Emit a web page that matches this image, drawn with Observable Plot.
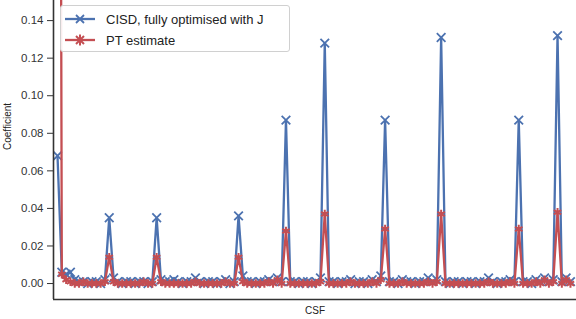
<!DOCTYPE html>
<html>
<head>
<meta charset="utf-8">
<script src="https://cdn.jsdelivr.net/npm/d3@7"></script>
<script src="https://cdn.jsdelivr.net/npm/@observablehq/plot@0.6"></script>
<style>
  html, body { margin: 0; padding: 0; background: #fff; }
  #wrap { position: relative; width: 576px; height: 319px; font-family: "Liberation Sans", Arial, sans-serif; }
  #legend { position: absolute; left: 60px; top: 5px; width: 230px; height: 47px; background: rgba(255,255,255,0.9);
            border: 1px solid #d0d0d0; border-radius: 3px; box-sizing: border-box; font-size: 13px; color: #222; }
  .row { position: absolute; left: 4px; height: 20px; display: flex; align-items: center; }
  .row svg { margin-right: 9px; }
</style>
</head>
<body>
<div id="wrap"></div>
<script>
const seriesNames = ["CISD, fully optimised with J", "PT estimate"];
const colors = ["#4c72b0", "#c44e52"];
const yTicks = [0.00, 0.02, 0.04, 0.06, 0.08, 0.10, 0.12, 0.14];
const xDomain = [-0.93, 120.4];
const yDomain = [-0.0085, 0.1507];

// CSF index 0..119
const cisd = [
  0.068, 0.006, 0.005, 0.006, 0.002, 0.001, 0.001, 0.000, 0.001, 0.001,
  0.000, 0.002, 0.035, 0.003, 0.001, 0.000, 0.001, 0.001, 0.000, 0.001,
  0.001, 0.000, 0.001, 0.035, 0.002, 0.001, 0.001, 0.002, 0.001, 0.000,
  0.001, 0.001, 0.003, 0.001, 0.000, 0.001, 0.001, 0.000, 0.001, 0.002,
  0.000, 0.001, 0.036, 0.004, 0.001, 0.001, 0.000, 0.001, 0.001, 0.002,
  0.001, 0.003, 0.001, 0.087, 0.001, 0.001, 0.000, 0.001, 0.001, 0.000,
  0.001, 0.003, 0.128, 0.001, 0.001, 0.000, 0.001, 0.001, 0.002, 0.000,
  0.001, 0.001, 0.000, 0.002, 0.001, 0.004, 0.087, 0.001, 0.001, 0.000,
  0.002, 0.001, 0.001, 0.000, 0.001, 0.001, 0.003, 0.001, 0.002, 0.131,
  0.001, 0.000, 0.001, 0.001, 0.000, 0.001, 0.001, 0.000, 0.001, 0.001,
  0.003, 0.001, 0.000, 0.001, 0.001, 0.002, 0.001, 0.087, 0.001, 0.001,
  0.000, 0.002, 0.001, 0.003, 0.001, 0.002, 0.132, 0.001, 0.003, 0.001
];
const pt = [
  0.950, 0.005, 0.002, 0.001, 0.000, 0.000, 0.001, 0.000, 0.000, 0.000,
  0.000, 0.001, 0.014, 0.001, 0.000, 0.000, 0.000, 0.000, 0.000, 0.000,
  0.001, 0.000, 0.000, 0.014, 0.001, 0.000, 0.000, 0.000, 0.000, 0.000,
  0.000, 0.000, 0.001, 0.000, 0.000, 0.000, 0.000, 0.000, 0.000, 0.001,
  0.000, 0.000, 0.014, 0.001, 0.000, 0.000, 0.000, 0.000, 0.000, 0.001,
  0.000, 0.002, 0.000, 0.028, 0.000, 0.000, 0.000, 0.000, 0.000, 0.000,
  0.000, 0.001, 0.037, 0.000, 0.000, 0.000, 0.000, 0.000, 0.001, 0.000,
  0.000, 0.000, 0.000, 0.001, 0.000, 0.002, 0.029, 0.000, 0.000, 0.000,
  0.001, 0.000, 0.000, 0.000, 0.000, 0.000, 0.001, 0.000, 0.001, 0.037,
  0.000, 0.000, 0.000, 0.000, 0.000, 0.000, 0.000, 0.000, 0.000, 0.000,
  0.001, 0.000, 0.000, 0.000, 0.000, 0.001, 0.000, 0.029, 0.000, 0.000,
  0.000, 0.001, 0.000, 0.002, 0.000, 0.001, 0.038, 0.000, 0.002, 0.000
];

const data = [];
cisd.forEach((v, i) => data.push({csf: i, value: v, series: seriesNames[0]}));
pt.forEach((v, i) => data.push({csf: i, value: v, series: seriesNames[1]}));
const ptData = data.filter(d => d.series === seriesNames[1]);
const cisdData = data.filter(d => d.series === seriesNames[0]);

const chart = Plot.plot({
  width: 576,
  height: 319,
  marginLeft: 53,
  marginRight: 0,
  marginTop: 0,
  marginBottom: 20,
  style: {fontFamily: "'Liberation Sans', Arial, sans-serif", fontSize: "11.5px", color: "#333", background: "#fff"},
  x: {domain: xDomain, axis: null},
  y: {domain: yDomain, ticks: yTicks, tickFormat: d3.format(".2f"), label: null, tickSize: 6, tickPadding: 4},
  marks: [
    Plot.line(cisdData, {x: "csf", y: "value", stroke: colors[0], strokeWidth: 2.3, clip: true}),
    Plot.dot(cisdData, {x: "csf", y: "value", stroke: colors[0], symbol: "times", r: 4, strokeWidth: 1.8, clip: true}),
    Plot.line(ptData, {x: "csf", y: "value", stroke: colors[1], strokeWidth: 2.3, clip: true}),
    Plot.dot(ptData, {x: "csf", y: "value", stroke: colors[1], symbol: "asterisk", r: 4, strokeWidth: 2, clip: true}),
    Plot.ruleX([xDomain[0]], {stroke: "#333", strokeWidth: 1.6}),
    Plot.ruleY([yDomain[0]], {stroke: "#333", strokeWidth: 1.6}),
    Plot.axisY({ticks: yTicks, tickFormat: d3.format(".2f"), tickSize: 6, tickPadding: 4, label: null, stroke: "#333", color: "#333"}),
    Plot.text(["Coefficient"], {frameAnchor: "left", dx: -46, rotate: -90, fontSize: 10, fill: "#222"}),
    Plot.text(["CSF"], {frameAnchor: "bottom", dy: 14, fontSize: 10, fill: "#222"})
  ]
});
const wrap = document.getElementById("wrap");
wrap.appendChild(chart);

const legend = document.createElement("div");
legend.id = "legend";
const sym = [
  `<line x1="0" y1="6" x2="30" y2="6" stroke="${colors[0]}" stroke-width="2.3"/><path d="M11,2L19,10M19,2L11,10" stroke="${colors[0]}" stroke-width="1.8"/>`,
  `<line x1="0" y1="6" x2="30" y2="6" stroke="${colors[1]}" stroke-width="2.3"/><path d="M11,2L19,10M19,2L11,10M15,0.5L15,11.5" stroke="${colors[1]}" stroke-width="2"/>`
];
seriesNames.forEach((name, i) => {
  const row = document.createElement("div");
  row.className = "row";
  row.style.top = (3 + i * 21) + "px";
  row.innerHTML = `<svg width="32" height="12">${sym[i]}</svg><span>${name}</span>`;
  legend.appendChild(row);
});
wrap.appendChild(legend);
</script>
</body>
</html>
